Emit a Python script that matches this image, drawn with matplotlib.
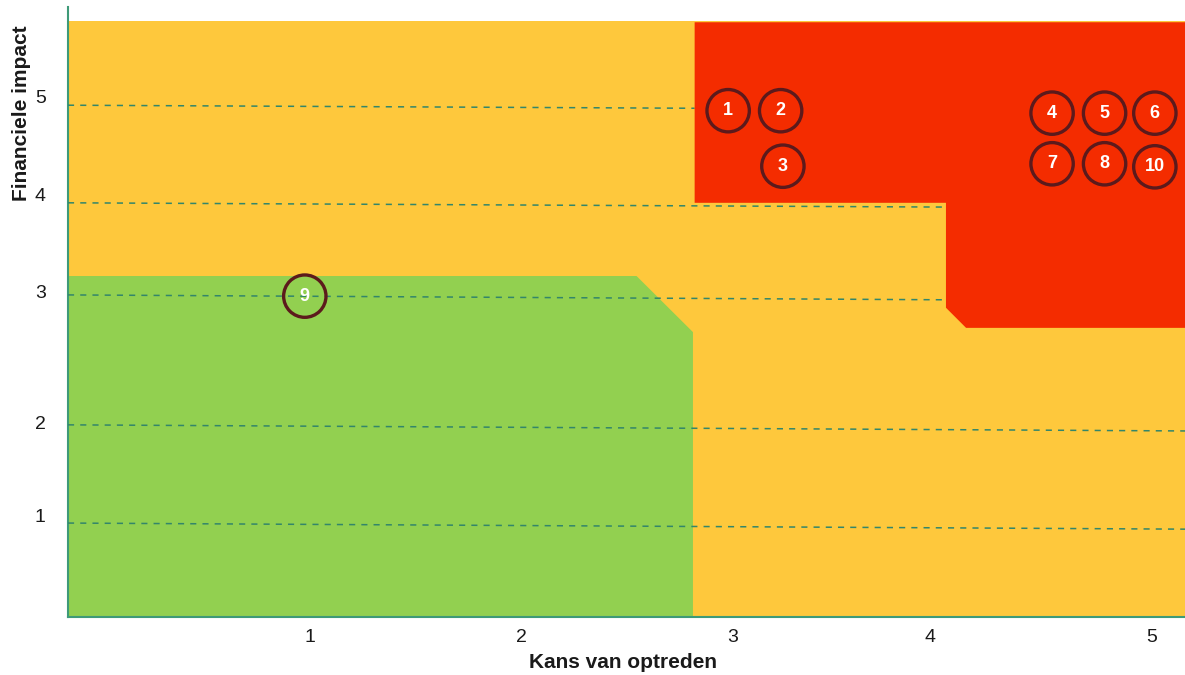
import matplotlib
matplotlib.use("Agg")
import matplotlib.pyplot as plt
from matplotlib.patches import Polygon

plt.rcParams["font.family"] = ["Liberation Sans", "DejaVu Sans"]

# Axis runs 0..100 in both directions; the tick values sit at uneven places.
X_TICKS = [21.7, 40.6, 59.5, 77.2, 97.0]
X_LABELS = ["1", "2", "3", "4", "5"]
Y_TICKS = [16.6, 31.9, 53.4, 69.3, 85.4]
Y_LABELS = ["1", "2", "3", "4", "5"]

# Zones of the risk matrix (x, y corners).
ZONE_ORANGE = [(0, 0), (100, 0), (100, 97.7), (0, 97.7)]
ZONE_GREEN = [(0, 0), (0, 55.9), (50.9, 55.9), (55.95, 46.7), (55.95, 0)]
ZONE_RED = [(56.1, 97.5), (100, 97.5), (100, 47.4), (80.4, 47.4),
            (78.6, 50.7), (78.6, 67.9), (56.1, 67.9)]

# Dashed guide lines: (x0, y0, x1, y1)
GUIDES = [
    (0, 83.9, 56.1, 83.4),
    (0, 67.9, 78.6, 67.2),
    (0, 52.8, 78.6, 52.0),
    (0, 31.5, 100, 30.5),
    (0, 15.4, 100, 14.4),
]

# Risks
RISK_IDS = ["1", "2", "3", "4", "5", "6", "7", "8", "10", "9"]
RISK_X = [59.1, 63.8, 64.0, 88.1, 92.8, 97.3, 88.1, 92.8, 97.3, 21.2]
RISK_Y = [83.0, 83.0, 73.9, 82.6, 82.6, 82.6, 74.3, 74.3, 73.8, 52.6]

fig = plt.figure(figsize=(11.85, 6.75), dpi=100)
ax = fig.add_axes([68/1185, 58/675, 1117/1185, 610/675])

ax.add_patch(Polygon(ZONE_ORANGE, closed=True, color="#FEC83C", lw=0, zorder=1))
ax.add_patch(Polygon(ZONE_GREEN, closed=True, color="#92D050", lw=0, zorder=2))
for x0, y0, x1, y1 in GUIDES:
    ax.plot([x0, x1], [y0, y1], ls=(0, (4, 4)), lw=1.1, color="#33866A", zorder=3)
ax.add_patch(Polygon(ZONE_RED, closed=True, color="#F42C00", lw=0, zorder=4))

ax.scatter(RISK_X, RISK_Y, s=930, facecolors="none", edgecolors="#5C1A1C",
           linewidths=2.4, zorder=5)
for lbl, x, y in zip(RISK_IDS, RISK_X, RISK_Y):
    ax.text(x, y, lbl, color="white", fontsize=13, fontweight="bold",
            ha="center", va="center", zorder=6)

ax.set_xlim(0, 100)
ax.set_ylim(0, 100)
ax.set_xticks(X_TICKS)
ax.set_xticklabels(X_LABELS)
ax.set_yticks(Y_TICKS)
ax.set_yticklabels(Y_LABELS)
ax.tick_params(axis="x", length=0, pad=9, labelsize=14, labelcolor="#1a1a1a")
ax.tick_params(axis="y", length=0, pad=16, labelsize=14, labelcolor="#1a1a1a")

for side in ("top", "right"):
    ax.spines[side].set_visible(False)
for side in ("left", "bottom"):
    ax.spines[side].set_color("#3E9A78")
    ax.spines[side].set_linewidth(1.5)

fig.text(623/1185, 1 - 662/675, "Kans van optreden", fontsize=15,
         fontweight="bold", ha="center", va="center", color="#1a1a1a")
fig.text(22/1185, 1 - 113/675, "Financiele impact", fontsize=15,
         fontweight="bold", rotation=90, ha="center", va="center", color="#1a1a1a")

fig.savefig("out.png", dpi=100)
